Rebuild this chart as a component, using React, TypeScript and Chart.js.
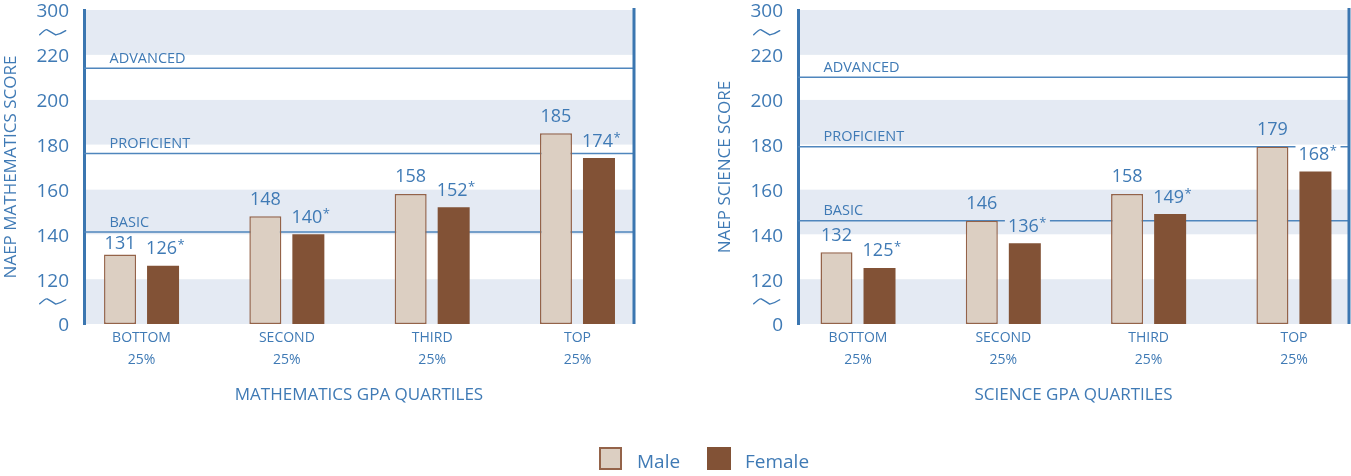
import React, { useEffect, useRef } from "react";
import { Chart, registerables } from "chart.js";

Chart.register(...registerables);

// ---------- data ----------
const quartileLabels = [
  ["BOTTOM", "25%"],
  ["SECOND", "25%"],
  ["THIRD", "25%"],
  ["TOP", "25%"],
];
const yTickValues = [100, 120, 140, 160, 180, 200, 220, 240];
const yTickLabels = ["0", "120", "140", "160", "180", "200", "220", "300"];
const mathMale = [131, 148, 158, 185];
const mathFemale = [126, 140, 152, 174];
const scienceMale = [132, 146, 158, 179];
const scienceFemale = [125, 136, 149, 168];
const femaleSignificant = [true, true, true, true];
const levelNames = ["BASIC", "PROFICIENT", "ADVANCED"];
const mathLevels = [141, 176, 214];
const scienceLevels = [146, 179, 210];
const seriesNames = ["Male", "Female"];

// ---------- styles ----------
const FONT = "'Open Sans', 'Noto Sans', sans-serif";
const BLUE = "#3f7ab5";
const AXIS = "#3b76b0";
const BAND = "#e4eaf3";
const LINE = "#4f86bd";
const MALE_FILL = "#dccfc2";
const MALE_BORDER = "#946349";
const FEMALE_FILL = "#825236";

type Lbl = { text: string; star: boolean; left: number; w: number; baseline: number; top: number; bottom: number; right: number };

function computeLabels(chart: any, male: number[], female: number[], levels: number[]): Lbl[] {
  const ctx = chart.ctx as CanvasRenderingContext2D;
  const y = chart.scales.y;
  const out: Lbl[] = [];
  [male, female].forEach((vals, d) => {
    const meta = chart.getDatasetMeta(d);
    vals.forEach((v, i) => {
      const el = meta.data[i] as any;
      if (!el) return;
      const star = d === 1 && femaleSignificant[i];
      const text = String(v);
      ctx.save();
      ctx.font = `18px ${FONT}`;
      const w = ctx.measureText(text).width;
      ctx.font = `13px ${FONT}`;
      const sw = star ? ctx.measureText("*").width + 1 : 0;
      ctx.restore();
      let baseline = el.y - 11.5;
      let top = baseline - 13;
      if (d === 0) {
        // male labels step below a level line that would cut through them
        for (const lv of levels) {
          const py = y.getPixelForValue(lv);
          if (py > top - 1 && py < baseline + 1) {
            top = py + 4;
            baseline = top + 13;
          }
        }
      }
      const center = el.x - (star ? 1.5 : 0);
      const left = center - w / 2;
      out.push({ text, star, left, w, baseline, top, bottom: baseline + 1, right: left + w + sw });
    });
  });
  return out;
}

function makeOverlay(male: number[], female: number[], levels: number[]) {
  return {
    id: "overlay",
    beforeDraw(chart: any) {
      const { ctx, chartArea: a, scales } = chart;
      const y = scales.y;
      ctx.save();
      for (let k = 0; k < yTickValues.length - 1; k++) {
        const top = y.getPixelForValue(yTickValues[k + 1]);
        const bot = y.getPixelForValue(yTickValues[k]);
        ctx.fillStyle = k % 2 === 0 ? BAND : "#ffffff";
        ctx.fillRect(a.left, top, a.right - a.left, bot - top);
      }
      ctx.restore();
    },
    beforeDatasetsDraw(chart: any) {
      const { ctx, chartArea: a, scales } = chart;
      const y = scales.y;
      const labels = computeLabels(chart, male, female, levels);
      ctx.save();
      levels.forEach((lv, i) => {
        const py = y.getPixelForValue(lv);
        const gaps = labels
          .filter((l) => l.top - 1 < py && l.bottom + 1 > py)
          .map((l) => [l.left - 3, l.right + 3])
          .sort((p, q) => p[0] - q[0]);
        ctx.beginPath();
        let cur = a.left;
        for (const [g0, g1] of gaps) {
          if (g0 > cur) {
            ctx.moveTo(cur, py);
            ctx.lineTo(g0, py);
          }
          cur = Math.max(cur, g1);
        }
        if (cur < a.right) {
          ctx.moveTo(cur, py);
          ctx.lineTo(a.right, py);
        }
        ctx.strokeStyle = LINE;
        ctx.lineWidth = 1.5;
        ctx.stroke();
        ctx.font = `14.5px ${FONT}`;
        ctx.fillStyle = BLUE;
        ctx.textAlign = "left";
        ctx.textBaseline = "alphabetic";
        ctx.fillText(levelNames[i], a.left + 25.5, py - 5.5);
      });
      ctx.restore();
    },
    afterDatasetsDraw(chart: any) {
      const { ctx, chartArea: a, scales } = chart;
      const y = scales.y;
      const labels = computeLabels(chart, male, female, levels);
      ctx.save();
      ctx.fillStyle = BLUE;
      ctx.textAlign = "left";
      ctx.textBaseline = "alphabetic";
      for (const l of labels) {
        ctx.font = `18px ${FONT}`;
        ctx.fillText(l.text, l.left, l.baseline);
        if (l.star) {
          ctx.font = `13px ${FONT}`;
          ctx.fillText("*", l.left + l.w + 0.5, l.baseline - 5);
        }
      }
      // right border
      ctx.beginPath();
      ctx.moveTo(a.right, a.top - 2);
      ctx.lineTo(a.right, a.bottom);
      ctx.strokeStyle = AXIS;
      ctx.lineWidth = 3;
      ctx.stroke();
      // axis break symbols
      ctx.font = `19px ${FONT}`;
      const w300 = ctx.measureText("300").width;
      const cx = a.left - 15 - w300 / 2;
      const breaks = [
        (y.getPixelForValue(240) + y.getPixelForValue(220)) / 2,
        (y.getPixelForValue(120) + y.getPixelForValue(100)) / 2,
      ];
      ctx.strokeStyle = BLUE;
      ctx.lineWidth = 1.4;
      ctx.lineJoin = "round";
      ctx.lineCap = "round";
      for (const cy of breaks) {
        ctx.beginPath();
        ctx.moveTo(cx - 13, cy + 2.3);
        ctx.quadraticCurveTo(cx - 7, cy - 3.5, cx - 5.5, cy - 2.6);
        ctx.quadraticCurveTo(cx - 1, cy, cx + 3, cy + 2.5);
        ctx.quadraticCurveTo(cx + 8, cy + 1.5, cx + 13, cy - 1.8);
        ctx.stroke();
      }
      ctx.restore();
    },
  };
}

type Cfg = {
  male: number[];
  female: number[];
  levels: number[];
  yTitle: string;
  xTitle: string;
  yWidth: number;
  titlePadTop: number;
  padRight: number;
  xMin: number;
  xMax: number;
};

function buildConfig(c: Cfg): any {
  const toPts = (arr: number[]) => arr.map((v, i) => ({ x: i, y: v }));
  return {
    type: "bar",
    data: {
      datasets: [
        {
          label: seriesNames[0],
          data: toPts(c.male),
          backgroundColor: MALE_FILL,
          borderColor: MALE_BORDER,
          borderWidth: 1.5,
          borderSkipped: false,
          base: 100,
          categoryPercentage: 0.592,
          barPercentage: 0.744,
        },
        {
          label: seriesNames[1],
          data: toPts(c.female),
          backgroundColor: FEMALE_FILL,
          borderWidth: 0,
          base: 100,
          categoryPercentage: 0.592,
          barPercentage: 0.744,
        },
      ],
    },
    options: {
      animation: false,
      responsive: false,
      maintainAspectRatio: false,
      events: [],
      layout: { padding: { left: 0, right: c.padRight, top: 10, bottom: 0 } },
      plugins: { legend: { display: false }, tooltip: { enabled: false } },
      scales: {
        x: {
          type: "linear",
          min: c.xMin,
          max: c.xMax,
          offset: false,
          bounds: "data",
          grid: { display: false, drawTicks: false, offset: false },
          border: { display: false },
          afterBuildTicks: (s: any) => {
            s.ticks = quartileLabels.map((_, i) => ({ value: i }));
          },
          ticks: {
            autoSkip: false,
            maxRotation: 0,
            padding: 3,
            color: BLUE,
            font: { family: FONT, size: 14, lineHeight: 1.57 },
            callback: (v: any) => quartileLabels[Math.round(v)] ?? "",
          },
          title: {
            display: true,
            text: c.xTitle,
            color: BLUE,
            font: { family: FONT, size: 17 },
            padding: { top: 0, bottom: 71 },
          },
          afterFit: (s: any) => {
            s.height = 152;
            s.paddingLeft = 0;
            s.paddingRight = 0;
          },
        },
        y: {
          type: "linear",
          min: 100,
          max: 240,
          grid: { display: false, drawTicks: false },
          border: { display: true, color: AXIS, width: 3 },
          afterBuildTicks: (s: any) => {
            s.ticks = yTickValues.map((v) => ({ value: v }));
          },
          ticks: {
            padding: 15,
            color: BLUE,
            labelOffset: 2,
            font: { family: FONT, size: 19 },
            callback: (v: any) => yTickLabels[yTickValues.indexOf(v)] ?? "",
          },
          title: {
            display: true,
            text: c.yTitle,
            color: BLUE,
            font: { family: FONT, size: 17 },
            padding: { top: c.titlePadTop, bottom: 0 },
          },
          afterFit: (s: any) => {
            s.width = c.yWidth;
            s.paddingTop = 0;
            s.paddingBottom = 0;
          },
        },
      },
    },
    plugins: [makeOverlay(c.male, c.female, c.levels)],
  };
}

function ChartCanvas({ cfg, left, width }: { cfg: Cfg; left: number; width: number }) {
  const ref = useRef<HTMLCanvasElement | null>(null);
  useEffect(() => {
    if (!ref.current) return;
    const chart = new Chart(ref.current, buildConfig(cfg));
    return () => chart.destroy();
  }, []);
  return (
    <canvas
      ref={ref}
      width={width}
      height={476}
      style={{ position: "absolute", left, top: 0, width, height: 476 }}
    />
  );
}

const mathCfg: Cfg = {
  male: mathMale,
  female: mathFemale,
  levels: mathLevels,
  yTitle: "NAEP MATHEMATICS SCORE",
  xTitle: "MATHEMATICS GPA QUARTILES",
  yWidth: 84,
  titlePadTop: 1.3,
  padRight: 56,
  xMin: -0.396,
  xMax: 3.389,
};

const scienceCfg: Cfg = {
  male: scienceMale,
  female: scienceFemale,
  levels: scienceLevels,
  yTitle: "NAEP SCIENCE SCORE",
  xTitle: "SCIENCE GPA QUARTILES",
  yWidth: 108,
  titlePadTop: 24.8,
  padRight: 2,
  xMin: -0.413,
  xMax: 3.379,
};

export default function App() {
  const legendText: React.CSSProperties = {
    position: "absolute",
    top: 452.4,
    fontFamily: FONT,
    fontSize: 19,
    lineHeight: "19px",
    color: BLUE,
    whiteSpace: "nowrap",
  };
  return (
    <div style={{ position: "absolute", left: 0, top: 0, width: 1351, height: 476, background: "#ffffff", overflow: "hidden" }}>
      <ChartCanvas cfg={mathCfg} left={0} width={690} />
      <ChartCanvas cfg={scienceCfg} left={690} width={661} />
      <div
        style={{
          position: "absolute",
          left: 599,
          top: 447,
          width: 23,
          height: 23,
          boxSizing: "border-box",
          background: MALE_FILL,
          border: `2px solid ${MALE_BORDER}`,
        }}
      />
      <div style={{ ...legendText, left: 637 }}>{seriesNames[0]}</div>
      <div
        style={{
          position: "absolute",
          left: 707,
          top: 447,
          width: 24,
          height: 23,
          background: FEMALE_FILL,
        }}
      />
      <div style={{ ...legendText, left: 745 }}>{seriesNames[1]}</div>
    </div>
  );
}
